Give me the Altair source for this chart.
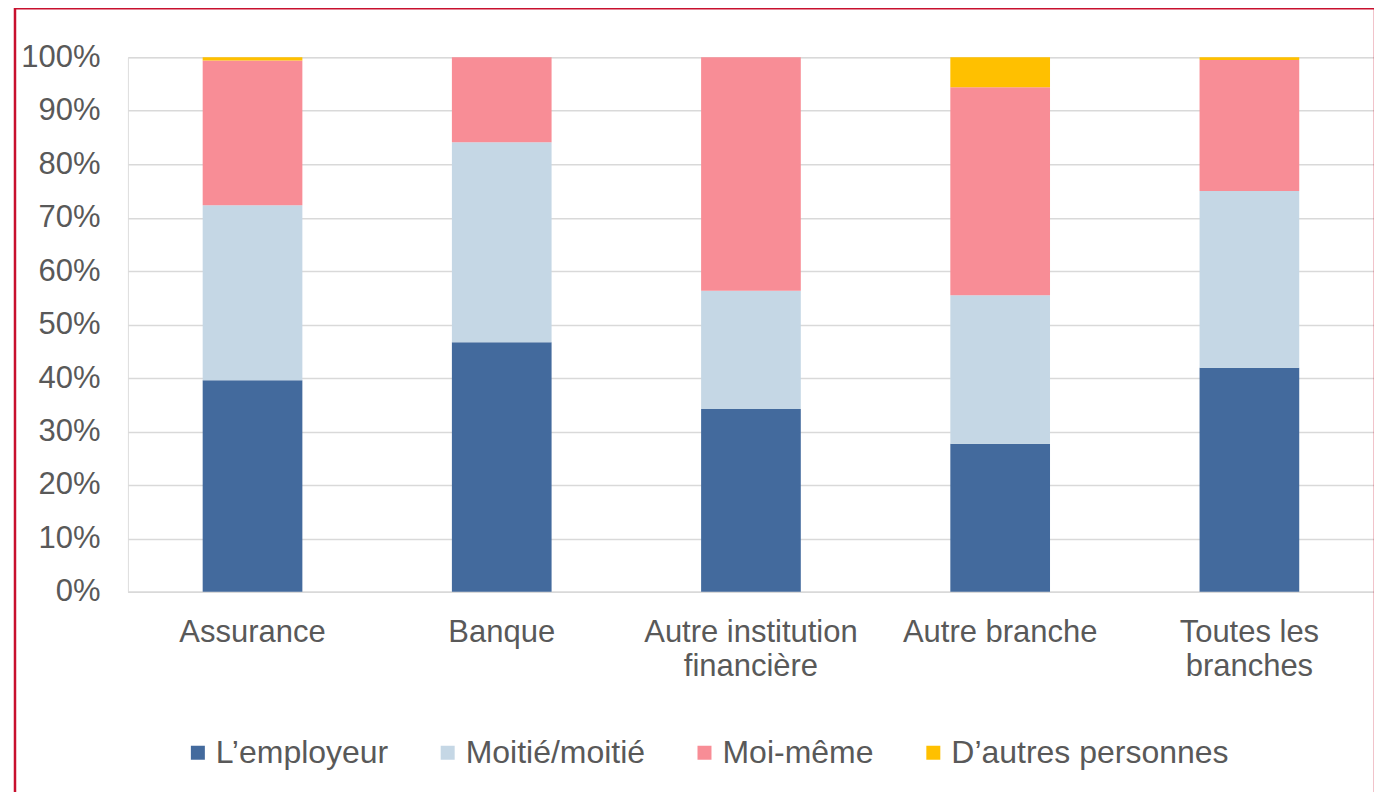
import altair as alt
import pandas as pd

categories = ["Assurance", "Banque", "Autre institution|financière", "Autre branche", "Toutes les|branches"]
series = ["L’employeur", "Moitié/moitié", "Moi-même", "D’autres personnes"]
colors = ["#436A9D", "#C5D7E5", "#F88D96", "#FFC000"]

employeur = [39.6, 46.7, 34.2, 27.7, 41.9]
moitie = [32.7, 37.4, 22.1, 27.8, 33.1]
moi_meme = [27.1, 15.9, 43.7, 38.9, 24.5]
autres = [0.6, 0.0, 0.0, 5.6, 0.5]

values = [employeur, moitie, moi_meme, autres]
rows = []
for si, (s, vals) in enumerate(zip(series, values)):
    for c, v in zip(categories, vals):
        rows.append({"cat": c, "serie": s, "val": v / 100.0, "ord": si})
df = pd.DataFrame(rows)

FONT = "Liberation Sans"
GREY = "#595959"

bars = alt.Chart(df).mark_bar(stroke=None).encode(
    x=alt.X("cat:N", sort=categories, title=None,
            scale=alt.Scale(paddingInner=0.6, paddingOuter=0.3),
            axis=alt.Axis(labelAngle=0, labelExpr="split(datum.label, '|')",
                          labelFontSize=31, labelColor=GREY, labelFont=FONT,
                          labelLineHeight=34, labelPadding=26, ticks=False,
                          labelLimit=500,
                          domain=True, domainColor="#D9D9D9", domainWidth=1.5,
                          labelBaseline="top")),
    y=alt.Y("val:Q", stack="zero", title=None,
            scale=alt.Scale(domain=[0, 1], nice=False),
            axis=alt.Axis(format=".0%", values=[i / 10 for i in range(11)],
                          labelFontSize=31, labelColor=GREY, labelFont=FONT,
                          labelPadding=28, ticks=False, domain=False,
                          grid=True, gridColor="#D9D9D9", gridWidth=1.5)),
    color=alt.Color("serie:N", sort=series,
                    scale=alt.Scale(domain=series, range=colors),
                    legend=alt.Legend(title=None, orient="none", direction="horizontal",
                                      legendX=54, legendY=680,
                                      symbolType="square", symbolSize=196,
                                      symbolStrokeWidth=0,
                                      labelFontSize=32, labelColor=GREY, labelFont=FONT,
                                      labelOffset=2, columnPadding=43,
                                      labelLimit=500)),
    order=alt.Order("ord:Q"),
)

frame = alt.Chart(pd.DataFrame({"k": [0]})).mark_rect(
    fill=None, stroke="#C8102E", strokeWidth=2.5
).encode(
    x=alt.value(-113), x2=alt.value(1248),
    y=alt.value(-49), y2=alt.value(900),
)

chart = alt.layer(frame, bars).properties(
    width=1247, height=535,
    autosize=alt.AutoSizeParams(type="none"),
    padding={"left": 120, "top": 49, "right": 0, "bottom": 200},
).configure_view(stroke=None).configure(background="white")

chart.save("out.html", embed_options={"renderer": "svg", "actions": False})
